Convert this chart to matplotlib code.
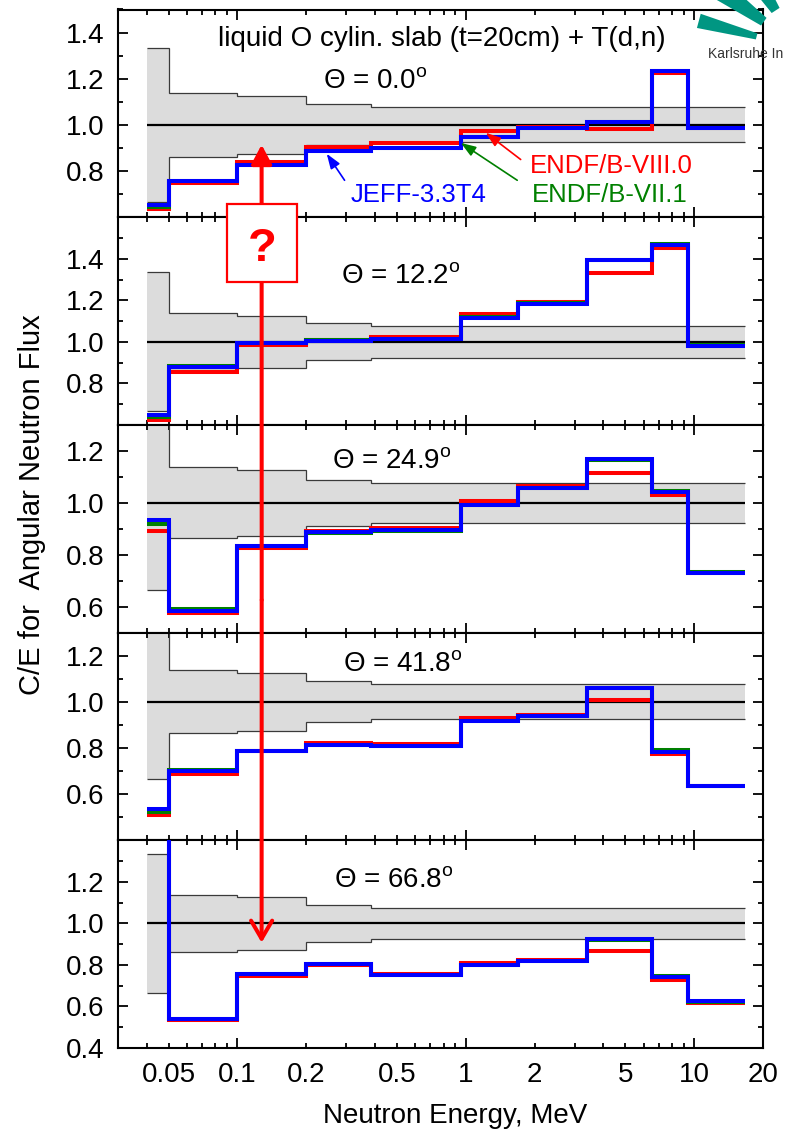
import matplotlib
matplotlib.use("Agg")
import numpy as np
import matplotlib.pyplot as plt
from matplotlib.patches import Rectangle, Polygon, ConnectionPatch
from matplotlib.ticker import FixedLocator, MultipleLocator, FuncFormatter

plt.rcParams['font.family'] = ['Liberation Sans', 'DejaVu Sans']
plt.rcParams['mathtext.fontset'] = 'custom'
plt.rcParams['mathtext.rm'] = 'Liberation Sans'

# energy group boundaries (MeV)
edges = [0.04, 0.05, 0.1, 0.2, 0.385, 0.95, 1.7, 3.4, 6.5, 9.35, 16.7]
# relative experimental uncertainty of each group
exp_unc = [0.335, 0.137, 0.126, 0.089, 0.076, 0.076, 0.076, 0.076, 0.076, 0.076]

angles = ["0.0", "12.2", "24.9", "41.8", "66.8"]

# C/E per energy group, one row per detector angle
ce_endf8 = [
    [0.637, 0.750, 0.838, 0.904, 0.921, 0.972, 0.990, 0.981, 1.223, 0.985],
    [0.624, 0.857, 0.987, 1.010, 1.024, 1.132, 1.190, 1.329, 1.452, 0.979],
    [0.890, 0.575, 0.827, 0.891, 0.901, 1.006, 1.063, 1.113, 1.030, 0.731],
    [0.509, 0.688, 0.786, 0.822, 0.819, 0.932, 0.944, 1.007, 0.776, 0.634],
    [1.800, 0.535, 0.748, 0.802, 0.757, 0.810, 0.823, 0.868, 0.729, 0.619],
]
ce_endf7 = [
    [0.644, 0.757, 0.828, 0.887, 0.899, 0.948, 0.988, 1.012, 1.233, 0.987],
    [0.636, 0.882, 0.996, 1.007, 1.015, 1.118, 1.185, 1.392, 1.469, 0.986],
    [0.919, 0.591, 0.835, 0.885, 0.891, 0.991, 1.057, 1.166, 1.044, 0.732],
    [0.524, 0.704, 0.789, 0.815, 0.809, 0.918, 0.938, 1.061, 0.790, 0.635],
    [1.800, 0.540, 0.754, 0.804, 0.751, 0.801, 0.819, 0.922, 0.745, 0.622],
]
ce_jeff = [
    [0.651, 0.757, 0.826, 0.885, 0.898, 0.947, 0.988, 1.013, 1.235, 0.988],
    [0.648, 0.880, 0.995, 1.006, 1.014, 1.117, 1.184, 1.393, 1.468, 0.979],
    [0.932, 0.583, 0.833, 0.886, 0.894, 0.992, 1.058, 1.168, 1.041, 0.731],
    [0.537, 0.702, 0.787, 0.814, 0.810, 0.919, 0.938, 1.062, 0.784, 0.634],
    [1.800, 0.540, 0.755, 0.805, 0.750, 0.800, 0.818, 0.923, 0.744, 0.624],
]

ylims = [(0.6, 1.5), (0.6, 1.6), (0.5, 1.3), (0.4, 1.3), (0.4, 1.4)]
yticks = [[0.8, 1.0, 1.2, 1.4], [0.8, 1.0, 1.2, 1.4], [0.6, 0.8, 1.0, 1.2],
          [0.6, 0.8, 1.0, 1.2], [0.4, 0.6, 0.8, 1.0, 1.2]]
x_major = [0.1, 1, 10]
x_minor = [0.04, 0.05, 0.06, 0.07, 0.08, 0.09, 0.2, 0.3, 0.4, 0.5, 0.6, 0.7,
           0.8, 0.9, 2, 3, 4, 5, 6, 7, 8, 9, 20]
x_labels = [0.05, 0.1, 0.2, 0.5, 1, 2, 5, 10, 20]

# angle label anchors (axes fraction)
theta_pos = [(0.318, 0.617), (0.346, 0.678), (0.332, 0.788), (0.349, 0.81), (0.335, 0.768)]

W, H = 788, 1132
fig = plt.figure(figsize=(W / 100, H / 100), dpi=100)


def fx(px):
    return px / W


def fy(py):
    return 1 - py / H


gs = fig.add_gridspec(5, 1, left=fx(118), right=fx(763), top=fy(9.5),
                      bottom=fy(1048), hspace=0)
axes = []
for i in range(5):
    ax = fig.add_subplot(gs[i], sharex=axes[0] if axes else None)
    axes.append(ax)


def xfmt(v, pos):
    for lab in x_labels:
        if np.isclose(v, lab):
            return f"{lab:g}"
    return ""


unc = np.array(exp_unc)
for i, ax in enumerate(axes):
    ax.set_xscale('log')
    ax.set_xlim(0.03, 20)
    ax.set_ylim(*ylims[i])

    ax.stairs(1 + unc, edges, baseline=1 - unc, fill=True, color='#dcdcdc',
              lw=0, zorder=1)
    ax.stairs(1 + unc, edges, baseline=None, color='#3a3a3a', lw=0.9, zorder=2)
    ax.stairs(1 - unc, edges, baseline=None, color='#3a3a3a', lw=0.9, zorder=2)
    ax.hlines(1.0, edges[0], edges[-1], color='black', lw=1.6, zorder=3)

    ax.stairs(ce_endf8[i], edges, baseline=None, color='#ff0000', lw=2.9, zorder=4)
    ax.stairs(ce_endf7[i], edges, baseline=None, color='#008000', lw=2.9, zorder=5)
    ax.stairs(ce_jeff[i], edges, baseline=None, color='#0000ff', lw=2.9, zorder=6)

    ax.xaxis.set_major_locator(FixedLocator(x_major))
    ax.xaxis.set_minor_locator(FixedLocator(x_minor))
    ax.xaxis.set_major_formatter(FuncFormatter(xfmt))
    ax.xaxis.set_minor_formatter(FuncFormatter(xfmt))
    ax.yaxis.set_major_locator(FixedLocator(yticks[i]))
    ax.yaxis.set_minor_locator(MultipleLocator(0.1))
    ax.yaxis.set_major_formatter(FuncFormatter(lambda v, p: f"{v:.1f}"))

    ax.tick_params(which='both', direction='in', top=True, right=True,
                   width=1.3, labelsize=20, pad=10, colors='black')
    ax.tick_params(which='major', length=7.5)
    ax.tick_params(which='minor', length=3.8)
    if i < 4:
        ax.tick_params(axis='x', which='both', labelbottom=False)
    for sp in ax.spines.values():
        sp.set_linewidth(1.5)

    tx, ty = theta_pos[i]
    ax.text(tx, ty, "\u0398 = " + angles[i] + r"$^\mathregular{o}$",
            transform=ax.transAxes, fontsize=20, va='baseline', ha='left',
            zorder=8)

ax0 = axes[0]
ax0.text(0.502, 0.824, 'liquid O cylin. slab (t=20cm) + T(d,n)',
         transform=ax0.transAxes, ha='center', va='baseline', fontsize=20)

# library labels with pointers
ax0.text(0.360, 0.074, 'JEFF-3.3T4', color='#0000ff', fontsize=18.5,
         transform=ax0.transAxes, va='baseline', zorder=8)
ax0.text(0.639, 0.211, 'ENDF/B-VIII.0', color='#ff0000', fontsize=18.5,
         transform=ax0.transAxes, va='baseline', zorder=8)
ax0.text(0.641, 0.074, 'ENDF/B-VII.1', color='#008000', fontsize=18.5,
         transform=ax0.transAxes, va='baseline', zorder=8)
pointer = '-|>,head_length=0.9,head_width=0.32'
ax0.annotate('', xy=(0.246, 0.875), xytext=(0.2945, 0.760),
             arrowprops=dict(arrowstyle=pointer, color='#0000ff', lw=1.2,
                             mutation_scale=10, shrinkA=0, shrinkB=0), zorder=9)
ax0.annotate('', xy=(1.222, 0.966), xytext=(1.738, 0.850),
             arrowprops=dict(arrowstyle=pointer, color='#ff0000', lw=1.2,
                             mutation_scale=10, shrinkA=0, shrinkB=0), zorder=9)
ax0.annotate('', xy=(0.951, 0.922), xytext=(1.679, 0.760),
             arrowprops=dict(arrowstyle=pointer, color='#008000', lw=1.2,
                             mutation_scale=10, shrinkA=0, shrinkB=0), zorder=9)

# red double arrow spanning the panels
x_q = 0.1276
mid = (fx(261.7), fy(600))
up = ConnectionPatch(xyA=mid, coordsA=fig.transFigure, xyB=(x_q, 0.914),
                     coordsB=axes[0].transData,
                     arrowstyle='-|>,head_length=0.58,head_width=0.31',
                     mutation_scale=20, color='#ff0000', lw=2.9, zorder=10)
down = ConnectionPatch(xyA=mid, coordsA=fig.transFigure, xyB=(x_q, 0.907),
                       coordsB=axes[4].transData,
                       arrowstyle='->,head_length=0.65,head_width=0.38',
                       mutation_scale=20, color='#ff0000', lw=2.9, zorder=10)
fig.add_artist(up)
fig.add_artist(down)
box = Rectangle((fx(227.3), fy(281.7)), fx(296.7) - fx(227.3), (281.7 - 204) / H,
                transform=fig.transFigure, facecolor='white', edgecolor='#ff0000',
                lw=1.6, zorder=11)
fig.add_artist(box)
fig.text(fx(262), fy(260.7), '?', color='#ff0000', fontsize=34,
         fontweight='bold', ha='center', va='baseline', zorder=12)

# axis titles
fig.text(fx(455), fy(1123), 'Neutron Energy, MeV', fontsize=20,
         ha='center', va='baseline')
fig.text(fx(32), fy(505), 'C/E for  Angular Neutron Flux', fontsize=21,
         rotation=90, ha='center', va='center')

# institute logo in the corner
F = np.array([800.0, 48.0])
for a1, a2 in [(161, 169), (138, 150), (117, 129)]:
    pts = []
    for r, a in [(45, a1), (105, a1), (105, a2), (45, a2)]:
        t = np.radians(a)
        px = F[0] + r * np.cos(t)
        py = F[1] - r * np.sin(t)
        pts.append((fx(px), fy(py)))
    fig.add_artist(Polygon(pts, closed=True, transform=fig.transFigure,
                           facecolor='#009682', edgecolor='none', zorder=13))
fig.text(fx(708), fy(58), 'Karlsruhe In', fontsize=10, color='#333333',
         ha='left', va='baseline', zorder=14)

fig.savefig('out.png', dpi=100)
